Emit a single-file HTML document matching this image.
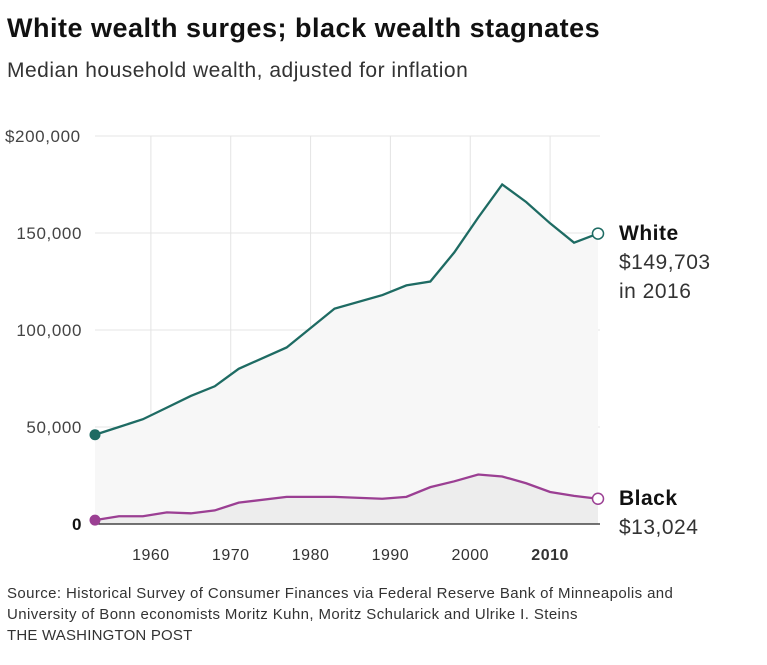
<!DOCTYPE html>
<html><head><meta charset="utf-8"><style>
body{margin:0;width:767px;height:665px;background:#fff;font-family:"Liberation Sans",sans-serif;overflow:hidden;position:relative}
.t{position:absolute;white-space:nowrap}
</style></head><body>
<div class="t" style="left:7px;top:13px;font-size:27px;letter-spacing:0.5px;font-weight:bold;color:#111">White wealth surges; black wealth stagnates</div>
<div class="t" style="left:7px;top:59px;font-size:21px;letter-spacing:0.5px;color:#333">Median household wealth, adjusted for inflation</div>
<svg id="c" width="767" height="580" style="position:absolute;left:0;top:0" font-family="Liberation Sans, sans-serif"></svg>
<div class="t" style="left:7px;top:583px;font-size:15px;letter-spacing:0.4px;color:#333;line-height:21px">Source: Historical Survey of Consumer Finances via Federal Reserve Bank of Minneapolis and<br>University of Bonn economists Moritz Kuhn, Moritz Schularick and Ulrike I. Steins</div>
<div class="t" style="left:7px;top:627px;font-size:15px;letter-spacing:0.2px;color:#333">THE WASHINGTON POST</div>
<script>
const years=[1953,1956,1959,1962,1965,1968,1971,1977,1983,1989,1992,1995,1998,2001,2004,2007,2010,2013,2016];
const white=[46000,50000,54000,60000,66000,71000,80000,91000,111000,118000,123000,125000,140000,158000,175000,166000,155000,145000,149703];
const black=[2000,4000,4000,6000,5500,7000,11000,14000,14000,13000,14000,19000,22000,25500,24500,21000,16500,14500,13024];
const yTicks=[0,50000,100000,150000,200000];
const yTickLabels=["0","50,000","100,000","150,000","$200,000"];
const xTicks=[1960,1970,1980,1990,2000,2010];
const NS="http://www.w3.org/2000/svg",svg=document.getElementById('c');
const X=y=>95+(y-1953)*(503/63), Y=v=>524-v*388/200000;
function el(t,a,p){const e=document.createElementNS(NS,t);for(const k in a)e.setAttribute(k,a[k]);(p||svg).appendChild(e);return e;}
const g=el('g',{});


xTicks.forEach(t=>{el('line',{x1:X(t),x2:X(t),y1:136,y2:524,stroke:'#e4e4e4'},g);
 const tx=el('text',{x:X(t),y:560,'text-anchor':'middle','font-size':16,'letter-spacing':0.5,fill:'#333','font-weight':t==2010?'bold':'normal'});tx.textContent=t;
 
 });
yTicks.forEach((t,i)=>{if(t>0)el('line',{x1:95,x2:600,y1:Y(t),y2:Y(t),stroke:'#e4e4e4'},g);
 const last=i==yTicks.length-1;
 const tx=el('text',{x:last?5:82,y:Y(t)+6,'text-anchor':last?'start':'end','font-size':17,'letter-spacing':0.6,fill:t==0?'#111':'#444','font-weight':t==0?'bold':'normal'});tx.textContent=yTickLabels[i];
 
 });
function pts(a){return years.map((y,i)=>X(y)+','+Y(a[i])).join(' ');}
const aw=el('polygon',{points:X(1953)+','+Y(0)+' '+pts(white)+' '+X(2016)+','+Y(0),fill:'#f7f7f7'});


const ab=el('polygon',{points:X(1953)+','+Y(0)+' '+pts(black)+' '+X(2016)+','+Y(0),fill:'#ededed'});


const ax=el('line',{x1:95,x2:600,y1:524,y2:524,stroke:'#222','stroke-width':1.2});


[[white,'#1e6b63','white'],[black,'#9b3f93','black']].forEach(([d,c,n])=>{
 const l=el('polyline',{points:pts(d),fill:'none',stroke:c,'stroke-width':2.3});
 
 
 const s=el('circle',{cx:X(years[0]),cy:Y(d[0]),r:5.5,fill:c});
 
 
 const e=el('circle',{cx:X(years[years.length-1]),cy:Y(d[d.length-1]),r:5.5,fill:'#fff',stroke:c,'stroke-width':1.5});
 
 
});
function lab(x,y,txt,bold,n){const t=el('text',{x:x,y:y,'font-size':21,'letter-spacing':0.5,fill:bold?'#111':'#333','font-weight':bold?'bold':'normal'});t.textContent=txt;
 
 }
lab(619,240,'White',true,'white-label');
lab(619,269,'$149,703',false,'white-value');
lab(619,298,'in 2016',false,'white-year');
lab(619,505,'Black',true,'black-label');
lab(619,534,'$13,024',false,'black-value');
</script>
</body></html>
